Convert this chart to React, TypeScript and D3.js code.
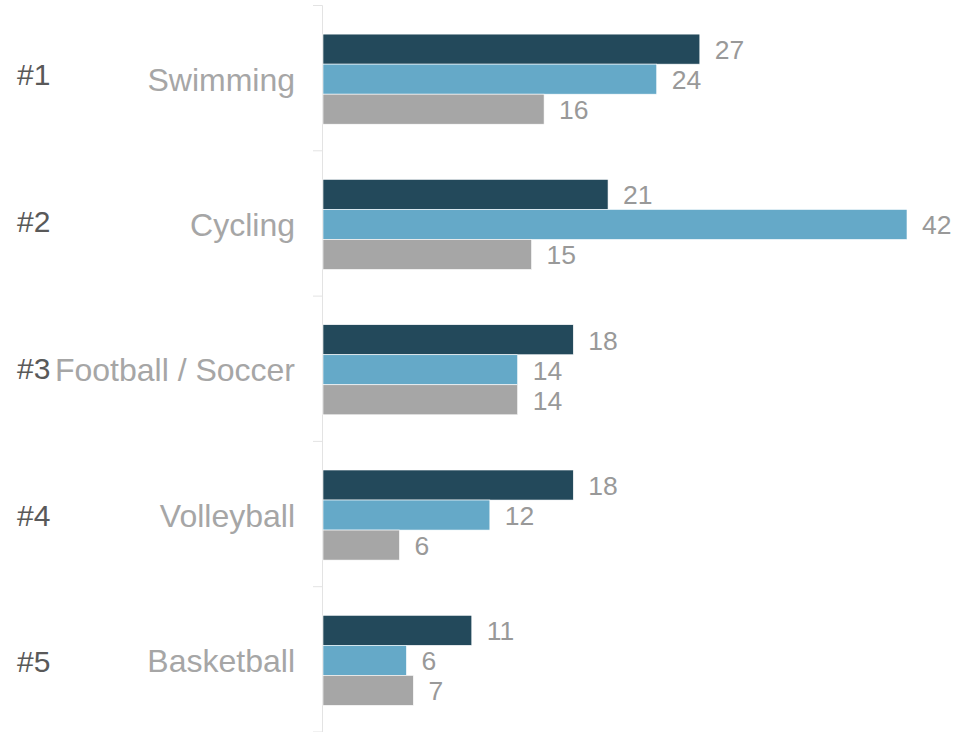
import React from "react";
import * as d3 from "d3";

const categories = ["Swimming", "Cycling", "Football / Soccer", "Volleyball", "Basketball"];
const ranks = ["#1", "#2", "#3", "#4", "#5"];
const seriesNames = ["Series A", "Series B", "Series C"];
const seriesA = [27.1, 20.5, 18, 18, 10.7];
const seriesB = [24, 42, 14, 12, 6];
const seriesC = [15.9, 15, 14, 5.5, 6.5];
const seriesColors = ["#23495b", "#65a9c8", "#a6a6a6"];

const W = 957;
const H = 732;

export default function App() {
  const allSeries = [seriesA, seriesB, seriesC];
  const x = d3.scaleLinear().domain([0, 42]).range([323, 907]);
  const y = d3
    .scaleBand<string>()
    .domain(categories)
    .range([5.5, 732])
    .paddingInner(0.38)
    .paddingOuter(0.19);
  const ySub = d3
    .scaleBand<string>()
    .domain(seriesNames)
    .range([0, y.bandwidth()]);
  const rankY = d3.scalePoint<string>().domain(ranks).range([74, 661.7]);
  const step = y.step();
  const axisTop = 5.5;
  const tickYs = d3.range(categories.length + 1).map((i) => axisTop + i * step);
  const font = "Liberation Sans, Arial, sans-serif";
  const catSize = 32;
  const rankSize = 30;

  return (
    <svg
      width={W}
      height={H}
      style={{ position: "absolute", left: 0, top: 0, display: "block", background: "#fff" }}
    >
      <line x1={322.5} x2={322.5} y1={axisTop} y2={H} stroke="#e3e3e3" strokeWidth={1} />
      {tickYs.map((ty, i) => (
        <line key={i} x1={313} x2={322.5} y1={ty} y2={ty} stroke="#e3e3e3" strokeWidth={1} />
      ))}
      {categories.map((cat, ci) => {
        const y0 = (y(cat) ?? 0) + 1;
        const cy = y0 + y.bandwidth() / 2;
        return (
          <g key={cat}>
            <text
              x={295}
              y={cy + 0.358 * catSize}
              textAnchor="end"
              fontFamily={font}
              fontSize={catSize}
              fill="#a6a6a6"
            >
              {cat}
            </text>
            {allSeries.map((vals, si) => {
              const by = y0 + (ySub(seriesNames[si]) ?? 0);
              const bh = ySub.bandwidth();
              const v = vals[ci];
              return (
                <g key={si}>
                  <rect
                    x={x(0)}
                    y={by}
                    width={x(v) - x(0)}
                    height={bh}
                    fill={seriesColors[si]}
                    stroke="#ffffff"
                    strokeWidth={0.6}
                  />
                  <text
                    x={x(v) + 15}
                    y={by + bh / 2 + 10}
                    fontFamily={font}
                    fontSize={26.5}
                    fill="#999999"
                  >
                    {Math.round(v)}
                  </text>
                </g>
              );
            })}
          </g>
        );
      })}
      {ranks.map((r) => (
        <text
          key={r}
          x={17}
          y={(rankY(r) ?? 0) + 0.358 * rankSize}
          fontFamily={font}
          fontSize={rankSize}
          fill="#595959"
        >
          {r}
        </text>
      ))}
    </svg>
  );
}
